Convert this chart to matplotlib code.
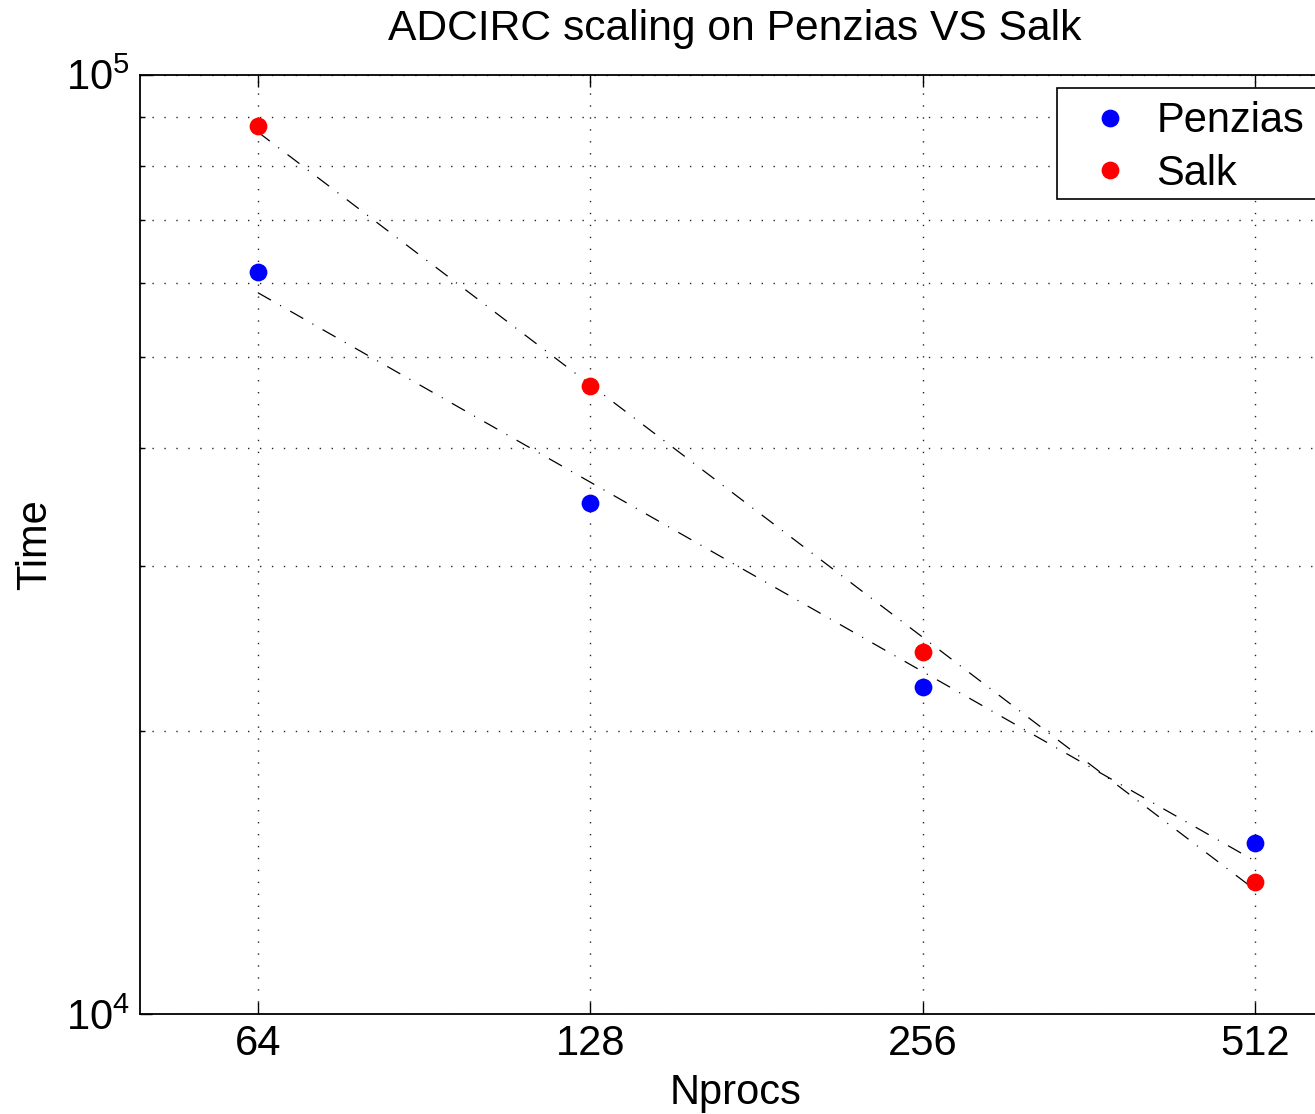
import matplotlib
matplotlib.use('Agg')
import matplotlib.pyplot as plt
from matplotlib.patches import Rectangle
from matplotlib.ticker import FixedLocator, NullFormatter, NullLocator, LogLocator

# --- data ---
nprocs = [64, 128, 256, 512]
penzias = [61600, 34990, 22300, 15190]
salk = [88150, 46600, 24300, 13830]
# end points of the fitted (power law) lines
fit_x = [64, 512]
penzias_fit = [58580, 14550]
salk_fit = [86850, 13560]

plt.rcParams['font.family'] = ['Liberation Sans', 'DejaVu Sans']
plt.rcParams['lines.scale_dashes'] = False

W, H = 1315, 1114
fig = plt.figure(figsize=(W / 100, H / 100), dpi=100)
# axes right edge lies outside the image (cropped like the original)
ax = fig.add_axes([139.5 / W, 100 / H, (1331 - 139.5) / W, (1014 - 74.5) / H])

dashdot = (0, (10.8, 7.6, 0.8, 7.6))
ax.plot(fit_x, penzias_fit, color='k', lw=0.9, ls=dashdot)
ax.plot(fit_x, salk_fit, color='k', lw=0.9, ls=dashdot)
ax.plot(nprocs, penzias, 'o', color='#0000ff', ms=12.8, mec='none', label='Penzias')
ax.plot(nprocs, salk, 'o', color='#ff0000', ms=12.8, mec='none', label='Salk')

ax.set_xscale('log')
ax.set_yscale('log')
ax.set_xlim(50, 600)
ax.set_ylim(1e4, 1e5)

ax.xaxis.set_major_locator(FixedLocator(nprocs))
ax.xaxis.set_major_formatter(plt.FixedFormatter([str(n) for n in nprocs]))
ax.xaxis.set_minor_locator(NullLocator())
ax.yaxis.set_major_locator(LogLocator(base=10))
ax.yaxis.set_minor_locator(LogLocator(base=10, subs=range(2, 10)))
ax.yaxis.set_minor_formatter(NullFormatter())

ax.tick_params(which='both', direction='in', top=True, right=True, width=1.0)
ax.tick_params(which='major', length=8.5, labelsize=30, pad=7)
ax.tick_params(which='minor', length=3.6)
for s in ax.spines.values():
    s.set_linewidth(1.3)

grid_style = dict(color='0.15', lw=1.0, ls=(0, (1.0, 7.6)))
ax.xaxis.grid(True, which='major', **grid_style)
ax.yaxis.grid(True, which='both', **grid_style)

ax.set_title('ADCIRC scaling on Penzias VS Salk', fontsize=30.7, pad=25)
ax.set_xlabel('Nprocs', fontsize=30, labelpad=7)
ax.set_ylabel('Time', fontsize=30, labelpad=8)

# legend box runs past the right edge of the picture, like the original
box = Rectangle((1057 / W, 1 - 199 / H), 280 / W, 111 / H, transform=fig.transFigure,
                facecolor='white', edgecolor='k', lw=1.2, zorder=4, clip_on=False)
ax.add_patch(box)
leg = ax.legend(loc='upper left', bbox_to_anchor=(1060 / W, 1 - 91 / H),
                bbox_transform=fig.transFigure, fontsize=30, frameon=False,
                numpoints=1, handlelength=1.9, handletextpad=0.16,
                borderpad=0.25, labelspacing=0.3, borderaxespad=0)
leg.set_zorder(5)

fig.savefig('out.png', dpi=100)
